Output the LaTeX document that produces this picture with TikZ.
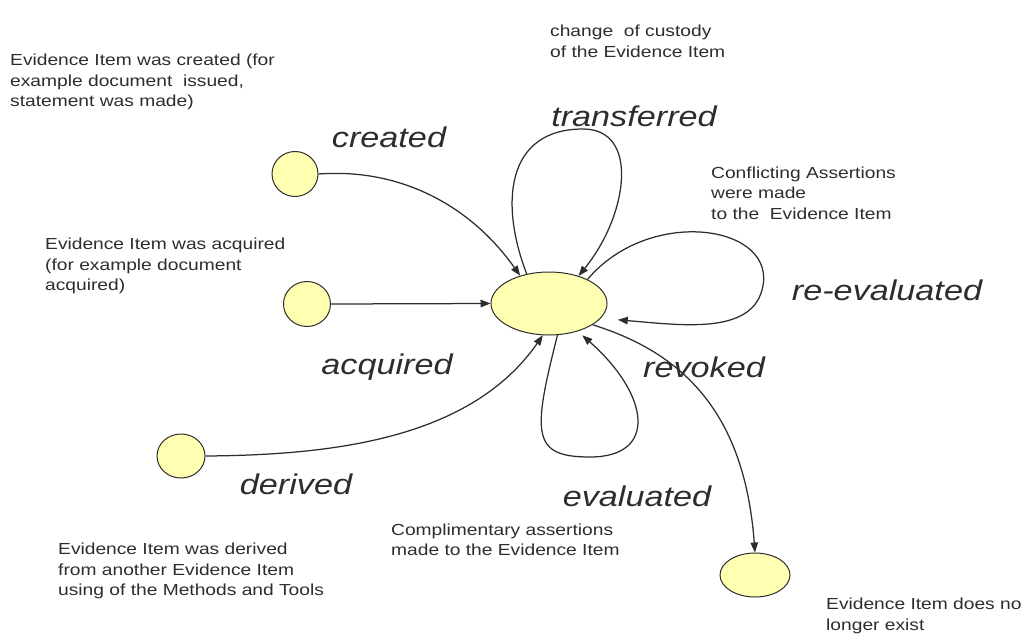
\documentclass[tikz,border=0pt]{standalone}
\usepackage{fontspec}
\setmainfont[FakeStretch=1.2]{Liberation Sans}
\usepackage{tikz}
\usetikzlibrary{arrows.meta, shapes.geometric}
\definecolor{stfill}{RGB}{255,255,178}
\definecolor{ink}{RGB}{45,45,45}

\begin{document}
\begin{tikzpicture}[
			x=1pt, y=-1pt
			,every node/.append style={text=ink}
			,st/.style={ellipse, draw=ink, fill=stfill, line width=1pt, inner sep=0pt}
			,lbl/.style={font=\fontsize{28.5}{30}\selectfont\itshape}
			,note/.style={anchor=west, align=left, inner sep=0pt, font=\fontsize{16}{20.5}\selectfont}
			,tr/.style={draw=ink, line width=1.25pt, -{Triangle[length=10pt,width=7.5pt]}}
		]
			\useasboundingbox (0,0) rectangle (1024,637);
			% states
			\node [st, minimum width=116pt, minimum height=63pt] (S) at (549,303.5) {};
			\node [st, minimum width=46pt, minimum height=45pt] (C) at (295,174) {};
			\node [st, minimum width=47pt, minimum height=45pt] (A) at (307,304) {};
			\node [st, minimum width=48pt, minimum height=44pt] (D) at (181,456) {};
			\node [st, minimum width=70pt, minimum height=44pt] (E) at (755,575) {};

			% transitions
			\draw [tr] (C.east) .. controls (400,168) and (470,205) .. (S.136);
			\draw [tr] (A.east) -- (S.west);
			\draw [tr] (D.east) .. controls (330,455) and (470,440) .. (S.-101);
			\draw [tr] (S.127) .. controls (500,205) and (505,129) .. (583,129)
				.. controls (640,129) and (628,215) .. (S.43);
			\draw [tr, shorten >=17pt] (S.32) .. controls (650,205) and (780,225) .. (762,290)
				.. controls (750,335) and (680,325) .. (S.-16);
			\draw [tr, shorten >=6pt] (S.-75) .. controls (532,435) and (532,457) .. (590,457)
				.. controls (658,457) and (650,395) .. (S.-44);
			\draw [tr] (S.-26) .. controls (690,355) and (745,420) .. (E.north);

			% transition labels
			\node [lbl] (lc) at (389,137) {created};
			\node [lbl] (lt) at (634,116) {transferred};
			\node [lbl] (lr) at (887,290) {re-evaluated};
			\node [lbl] (la) at (387,367) {acquired};
			\node [lbl] (lv) at (704,367) {revoked};
			\node [lbl] (ld) at (296,484) {derived};
			\node [lbl] (le) at (637,496) {evaluated};

			% notes
			\node [note] (nc) at (10,82) {Evidence Item was created (for\\example document~ issued,\\statement was made)};
			\node [note] (nt) at (550,41.5) {change~ of custody\\of the Evidence Item};
			\node [note] (nr) at (711,193) {Conflicting Assertions\\were made\\to the~ Evidence Item};
			\node [note] (na) at (45,266) {Evidence Item was acquired\\(for example document\\acquired)};
			\node [note] (ne) at (391,540) {Complimentary assertions\\made to the Evidence Item};
			\node [note] (nd) at (58,571) {Evidence Item was derived\\from another Evidence Item\\using of the Methods and Tools};
			\node [note] (nx) at (826,616) {Evidence Item does no\\longer exist};
		\end{tikzpicture}
\end{document}
